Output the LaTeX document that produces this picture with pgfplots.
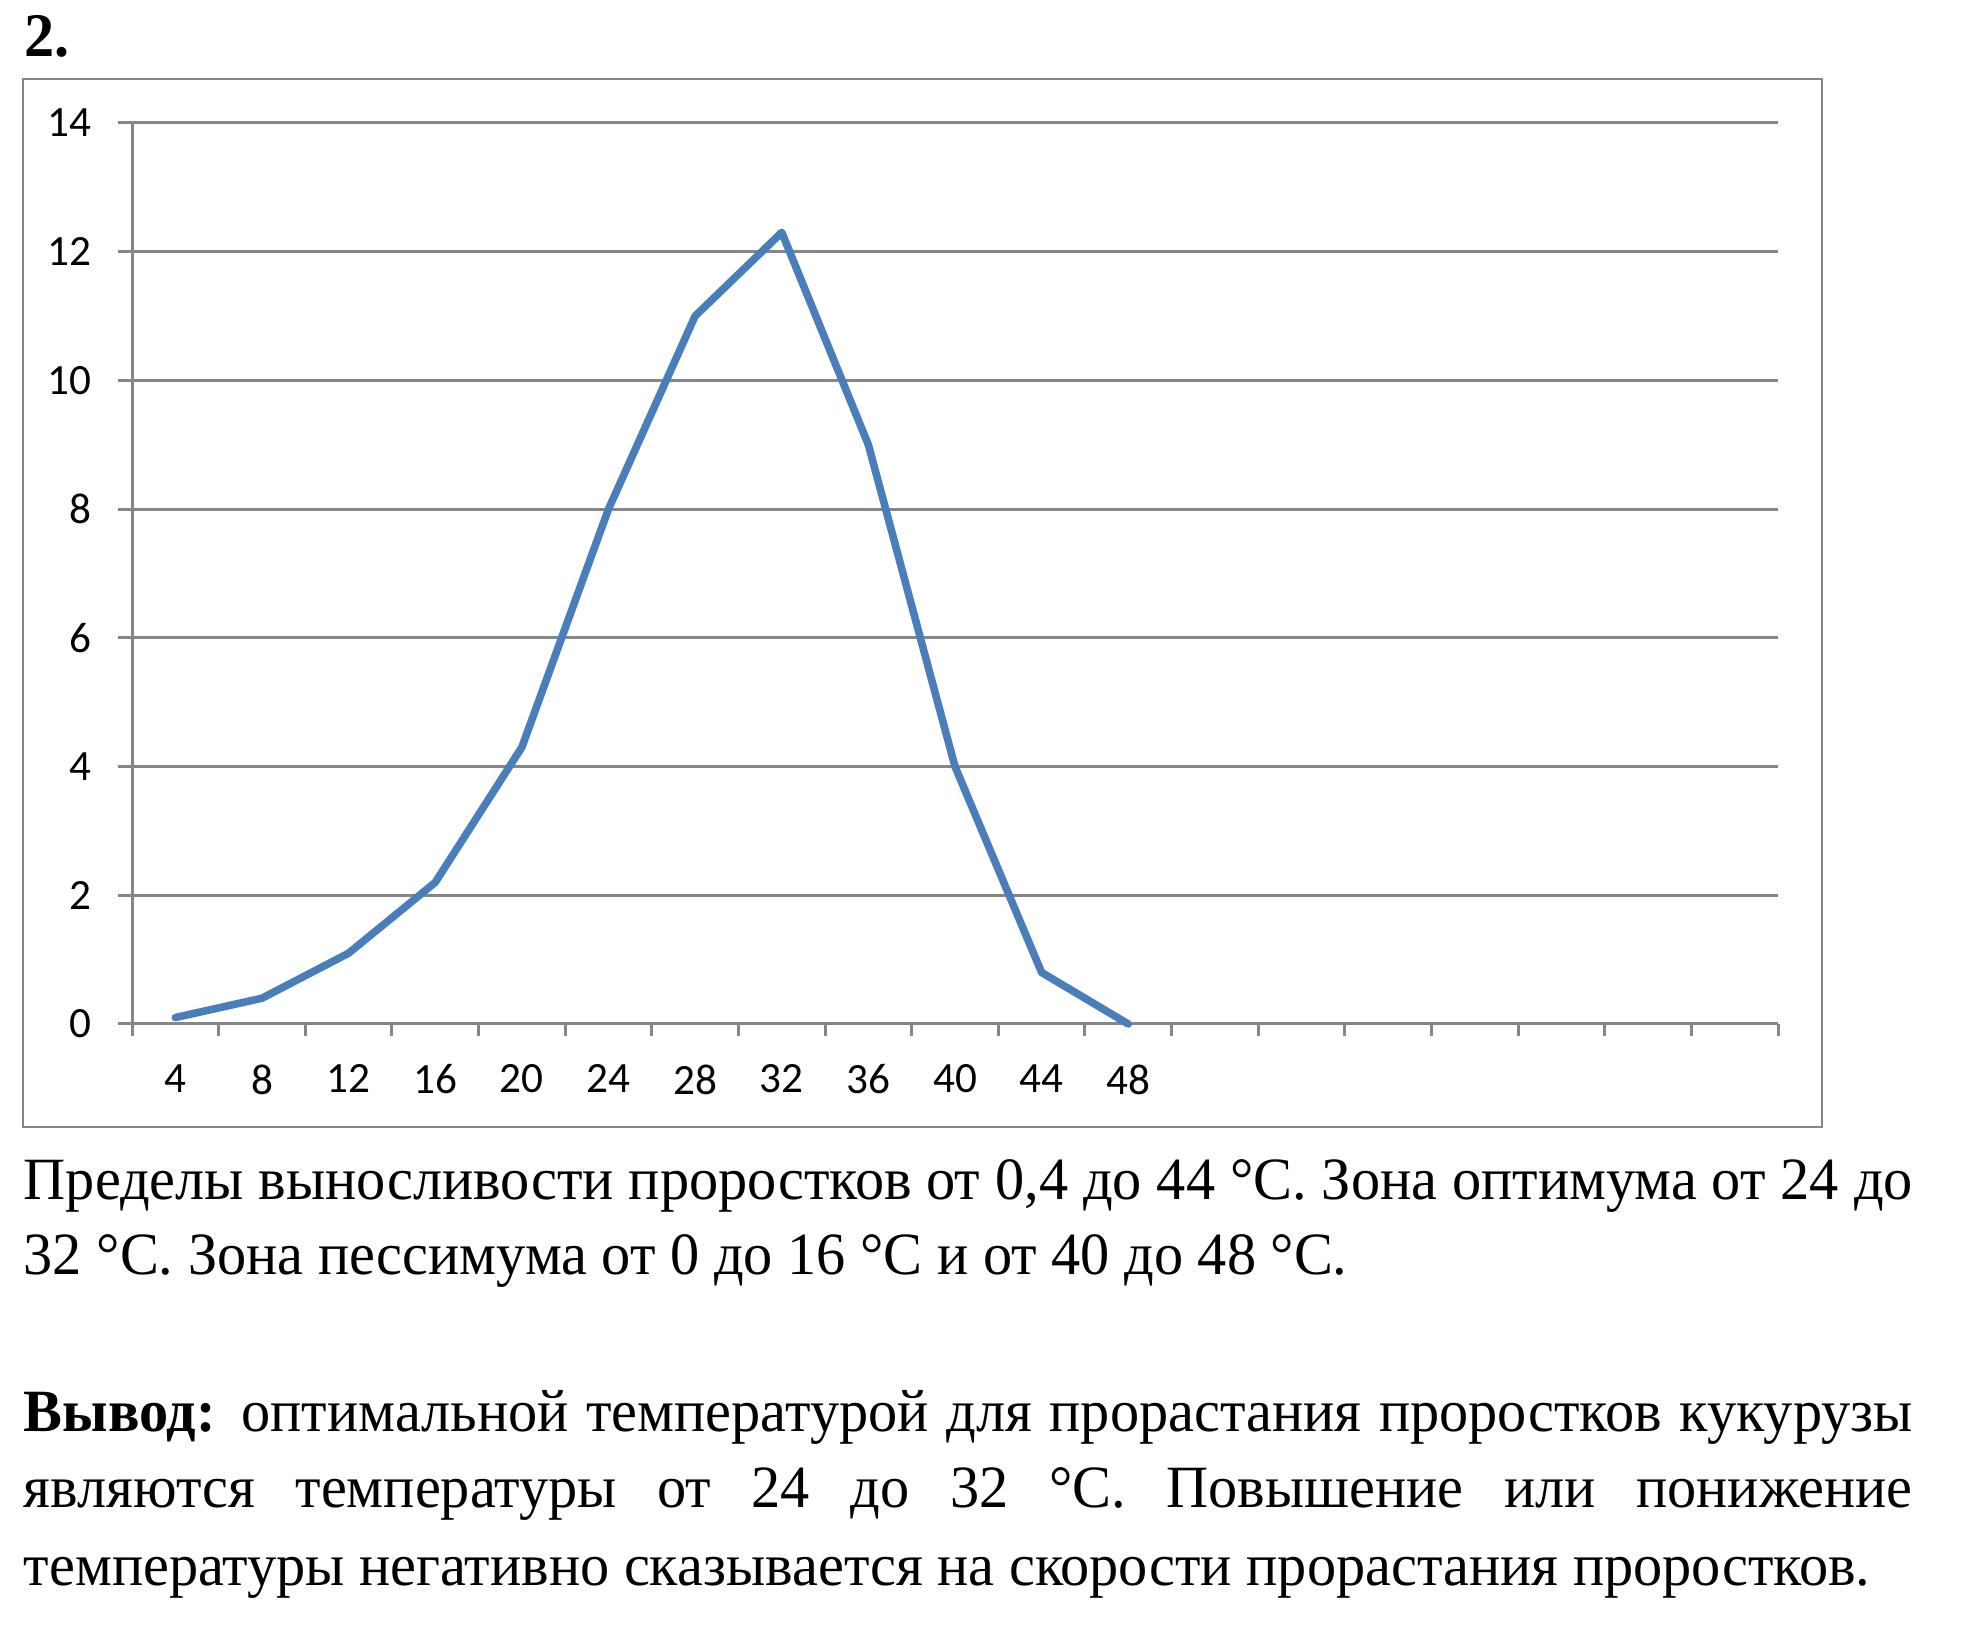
\documentclass[border=0pt]{standalone}
\usepackage{fontspec}
\setmainfont{Liberation Serif}[FakeStretch=0.972]
\newfontfamily\chartfont{Carlito}
\usepackage{pgfplots}
\pgfplotsset{compat=1.18}
\definecolor{lineblue}{HTML}{4A7EBB}
\definecolor{gridgray}{HTML}{868686}

\begin{document}
\begin{tikzpicture}
\useasboundingbox (0,0) rectangle (492.5pt,409.25pt);
\node[anchor=base west, inner sep=0pt, font=\fontsize{15.5}{18}\selectfont\bfseries] at (6pt,395pt) {2.};
\draw[gridgray, line width=0.7pt] (5.75pt,127.5pt) rectangle (455.5pt,389.5pt);
\begin{axis}[
  at={(33pt,153.25pt)}, anchor=south west,
  scale only axis, width=411.5pt, height=225.25pt,
  xmin=-0.5, xmax=18.5, ymin=0, ymax=14,
  axis x line=bottom, axis y line=left,
  axis line style={draw=gridgray, line width=0.75pt, -},
  xtick={0,...,11}, xticklabels={4,8,12,16,20,24,28,32,36,40,44,48},
  minor xtick={-0.5,0.5,...,18.5},
  major x tick style={draw=none},
  minor x tick style={draw=gridgray, line width=0.75pt},
  minor tick length=3.1pt,
  ytick={0,2,...,14},
  y tick style={draw=gridgray, line width=0.75pt},
  major tick length=3.5pt,
  tick align=outside,
  ymajorgrids, major grid style={draw=gridgray, line width=0.75pt},
  tick label style={font=\chartfont\fontsize{10.8}{12}\selectfont, inner sep=0pt},
  xticklabel style={anchor=north, yshift=-6.5pt},
  yticklabel style={anchor=east, xshift=-6.5pt},
  /pgf/number format/assume math mode=true,
  clip=false,
]
\addplot[lineblue, line width=1.9pt, line join=round, line cap=round] coordinates {
(0,0.1) (1,0.4) (2,1.1) (3,2.2) (4,4.3) (5,8.0) (6,11.0) (7,12.3) (8,9.0) (9,4.0) (10,0.8) (11,0)};
\end{axis}
\begin{scope}[every node/.style={anchor=base west, inner sep=0pt, font=\fontsize{15}{18}\selectfont}]
\node at (5.75pt,109.25pt) {\makebox[472.25pt][s]{Пределы выносливости проростков от 0,4 до 44 °C. Зона оптимума от 24 до}};
\node at (5.75pt,90.5pt) {32 °C. Зона пессимума от 0 до 16 °C и от 40 до 48 °C.};
\node at (5.75pt,51.25pt) {\makebox[472.25pt][s]{\textbf{Вывод:} оптимальной температурой для прорастания проростков кукурузы}};
\node at (5.75pt,32.25pt) {\makebox[472.25pt][s]{являются температуры от 24 до 32 °C. Повышение или понижение}};
\node at (5.75pt,12.75pt) {температуры негативно сказывается на скорости прорастания проростков.};
\end{scope}
\end{tikzpicture}
\end{document}
